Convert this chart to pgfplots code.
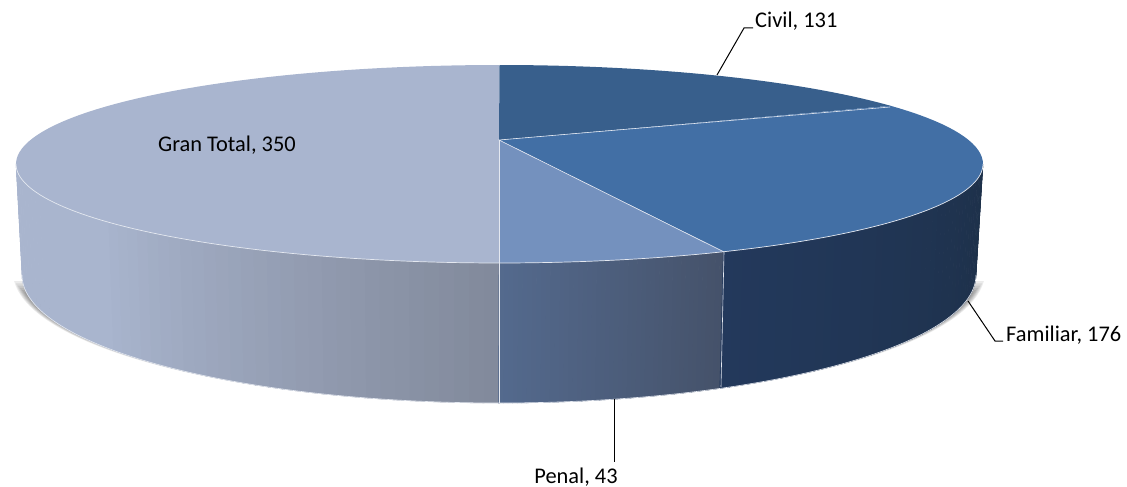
\documentclass[border=0pt]{standalone}
\usepackage{pgfplots}
\usepackage{fontspec}
\setmainfont{Carlito}
\pgfplotsset{compat=1.18}
% Geometry of the tilted pie, in reference pixels.
% Edge angles (clockwise from the top) for the values
% Civil 131, Familiar 176, Penal 43, Gran Total 350.
\def\tcx{499.5}\def\tcy{164}\def\trx{483.5}\def\tryy{99}
\def\bcx{499}\def\bcy{275}\def\brx{477}\def\bry{128}
\def\ax{499}\def\ay{140}
\def\tCivil{54}\def\tFam{152.3}\def\tPenal{180}
\definecolor{cGran}{HTML}{A9B5CF}
\definecolor{cCivil}{HTML}{385F8C}
\definecolor{cFam}{HTML}{426FA5}
\definecolor{cPenal}{HTML}{7491BE}
\definecolor{gA}{HTML}{828A9C}
\definecolor{gB}{HTML}{A9B5CE}
\definecolor{pA}{HTML}{45526A}
\definecolor{pB}{HTML}{546A8E}
\definecolor{fA}{HTML}{23395C}
\definecolor{fB}{HTML}{1D3049}
\definecolor{rim}{HTML}{E4E8F0}
% one slice of a side face
\newcommand{\sidestrip}[6]{%
  \pgfmathsetmacro\ta{#1+(#2-#1)*#3/100}%
  \pgfmathsetmacro\tb{#1+(#2-#1)*(#3+2.2)/100}%
  \pgfmathtruncatemacro\pct{min(100,#3*100/#6)}%
  \pgfmathsetmacro\xa{\tcx+\trx*sin(\ta)}\pgfmathsetmacro\ya{\tcy-\tryy*cos(\ta)}%
  \pgfmathsetmacro\xb{\tcx+\trx*sin(\tb)}\pgfmathsetmacro\yb{\tcy-\tryy*cos(\tb)}%
  \pgfmathsetmacro\xc{\bcx+\brx*sin(\tb)}\pgfmathsetmacro\yc{\bcy-\bry*cos(\tb)}%
  \pgfmathsetmacro\xd{\bcx+\brx*sin(\ta)}\pgfmathsetmacro\yd{\bcy-\bry*cos(\ta)}%
  \edef\temp{\noexpand\addplot[fill={#5!\pct!#4},draw={#5!\pct!#4},line width=0.5pt,line join=round] coordinates
    {(\xa,\ya)(\xb,\yb)(\xc,\yc)(\xd,\yd)(\xa,\ya)};}%
  \temp}
\begin{document}
\begin{tikzpicture}
\path[use as bounding box] (0,0) rectangle (1127pt,487pt);
\begin{axis}[
  at={(0,0)},anchor=south west,
  scale only axis,width=1127pt,height=487pt,
  xmin=0,xmax=1127,ymin=0,ymax=487,y dir=reverse,
  hide axis,clip=false,
  every axis plot/.append style={forget plot},
]
% shadow
\pgfplotsinvokeforeach{0,1,...,8}{
  \addplot[fill=black,draw=none,fill opacity=0.08,samples=80,
    domain=180-86+#1:180+86-#1]
    ({499+(486-1.1*#1)*sin(x)},{272-(131-0.3*#1)*cos(x)});
}
% side faces
\pgfplotsinvokeforeach{0,2,...,98}{\sidestrip{\tPenal}{270}{#1}{gA}{gB}{60}}
\pgfplotsinvokeforeach{0,2,...,98}{\sidestrip{\tFam}{\tPenal}{#1}{pA}{pB}{100}}
\pgfplotsinvokeforeach{0,2,...,98}{\sidestrip{90}{\tFam}{#1}{fB}{fA}{100}}
% top wedges
\addplot[fill=cGran,draw=none,domain=180:360,samples=90]
  ({\tcx+\trx*sin(x)},{\tcy-\tryy*cos(x)});
\addplot[fill=cCivil,draw=none,domain=0:\tCivil,samples=40]
  ({\tcx+\trx*sin(x)},{\tcy-\tryy*cos(x)}) -- (axis cs:\ax,\ay) -- cycle;
\addplot[fill=cFam,draw=none,domain=\tCivil:\tFam,samples=50]
  ({\tcx+\trx*sin(x)},{\tcy-\tryy*cos(x)}) -- (axis cs:\ax,\ay) -- cycle;
\addplot[fill=cPenal,draw=none,domain=\tFam:\tPenal,samples=20]
  ({\tcx+\trx*sin(x)},{\tcy-\tryy*cos(x)}) -- (axis cs:\ax,\ay) -- cycle;
% edges
\addplot[rim,line width=0.7pt,domain=90:270,samples=120]
  ({\tcx+\trx*sin(x)},{\tcy-\tryy*cos(x)});
\addplot[rim,line width=0.6pt,domain=90:270,samples=120]
  ({\bcx+\brx*sin(x)},{\bcy-\bry*cos(x)});
\addplot[rim,line width=0.6pt] coordinates {(890,107)(499,140)(724,252)};
\addplot[rim,line width=0.6pt] coordinates {(499,140)(499,403)};
\addplot[rim,line width=0.6pt] coordinates {(724,252)(721,387)};
% leaders
\addplot[black,line width=1pt] coordinates {(717,75)(744,28)(753,28)};
\addplot[black,line width=1pt] coordinates {(968,301)(995,341)(1003,341)};
\addplot[black,line width=1pt] coordinates {(614,399)(614,462)};
% labels
\node[anchor=west,inner sep=0pt,font=\fontsize{22.4}{26}\selectfont] at (axis cs:755,21) {Civil, 131};
\node[anchor=west,inner sep=0pt,font=\fontsize{22.4}{26}\selectfont] at (axis cs:1006,335) {Familiar, 176};
\node[anchor=center,inner sep=0pt,font=\fontsize{22.4}{26}\selectfont] at (axis cs:576,477) {Penal, 43};
\node[anchor=west,inner sep=0pt,font=\fontsize{22.4}{26}\selectfont] at (axis cs:158,145) {Gran Total, 350};
\end{axis}
\end{tikzpicture}
\end{document}
